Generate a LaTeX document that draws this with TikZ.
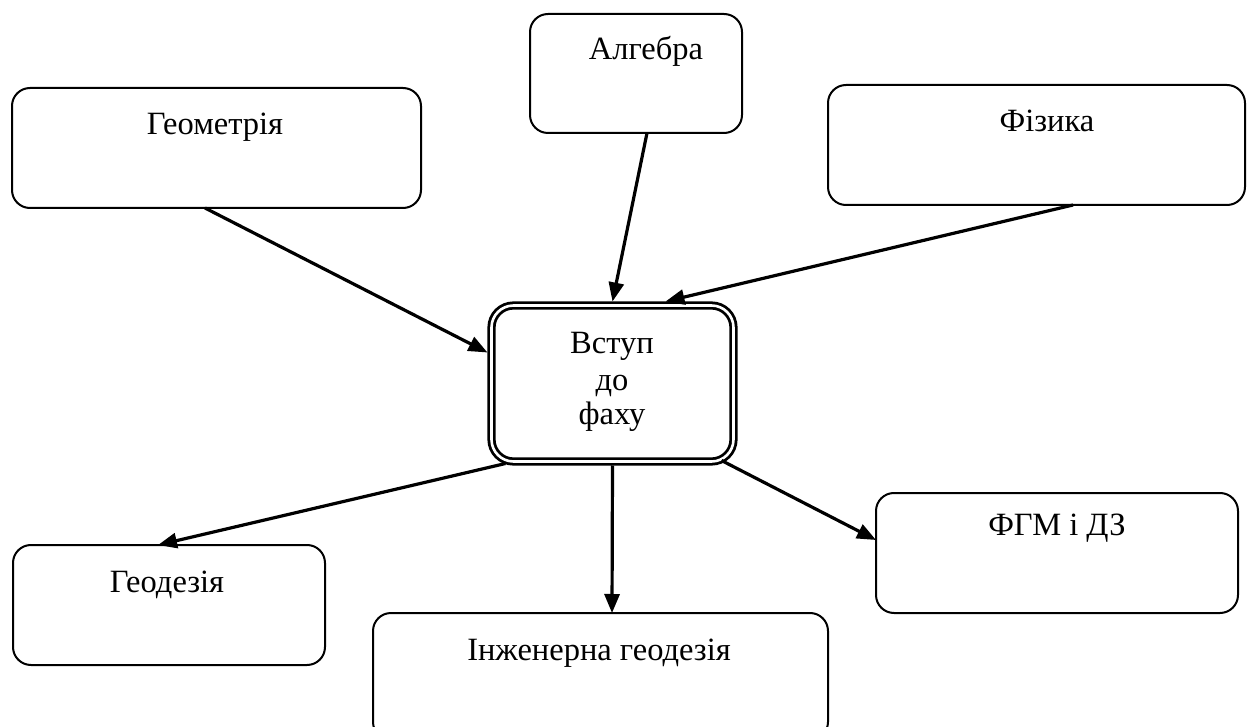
\documentclass[tikz,border=0pt]{standalone}
\usepackage{fontspec}
\setmainfont{Liberation Serif}
\usetikzlibrary{arrows.meta,calc}
\begin{document}
\begin{tikzpicture}[x=1pt,y=-1pt,
  box/.style={draw, line width=2pt, rounded corners=18pt, inner sep=0pt, outer sep=0pt},
  ctrbox/.style={draw, double, double distance=2.6pt, line width=2.8pt, rounded corners=22pt, inner sep=0pt, outer sep=0pt},
  txt/.style={anchor=base, inner sep=0pt, font=\fontsize{32.5}{38}\selectfont},
  arr/.style={line width=3.2pt, -{Triangle[length=19pt,width=15pt]}}]
\useasboundingbox[fill=white] (0,0) rectangle (1256,727);

\node[box, minimum width=409pt, minimum height=120pt] (geom) at (216.5,148) {};
\node[box, minimum width=212pt, minimum height=119pt] (alg) at (636,73.5) {};
\node[box, minimum width=417pt, minimum height=120pt] (fiz) at (1036.5,145) {};
\node[ctrbox, minimum width=242pt, minimum height=156pt] (ctr) at (612.5,383.5) {};
\node[box, minimum width=312pt, minimum height=120pt] (geod) at (169,605) {};
\node[box, minimum width=455pt, minimum height=127pt] (ing) at (600.5,676.5) {};
\node[box, minimum width=362pt, minimum height=120pt] (fgm) at (1057,553) {};

\node[txt] (geomt) at (215,135) {Геометрія};
\node[txt] (algt) at (646,60) {Алгебра};
\node[txt] (fizt) at (1047,132) {Фізика};
\node[txt] (ctr1) at (612,353) {Вступ};
\node[txt] (ctr2) at (612,390) {до};
\node[txt] (ctr3) at (612,424) {фаху};
\node[txt] (geodt) at (167,592) {Геодезія};
\node[txt] (ingt) at (599,660) {Інженерна геодезія};
\node[txt] (fgmt) at (1057,535) {ФГМ і ДЗ};

\draw[arr] ($(geom.south west)+(193,0)$) -- ($(ctr.north west)+(-4,47)$);
\draw[arr] ($(alg.south west)+(117,0)$) -- ($(ctr.north)+(0,-4)$);
\draw[arr] ($(fiz.south west)+(245,0)$) -- ($(ctr.north west)+(174,-4)$);
\draw[arr] ($(ctr.south west)+(14,2)$) -- ($(geod.north west)+(145,0)$);
\draw[arr] ($(ctr.south)+(0,4)$) -- ($(ing.north west)+(239,0)$);
\draw[arr] ($(ctr.south east)+(-12,-1)$) -- ($(fgm.north west)+(0,47)$);
\end{tikzpicture}
\end{document}
